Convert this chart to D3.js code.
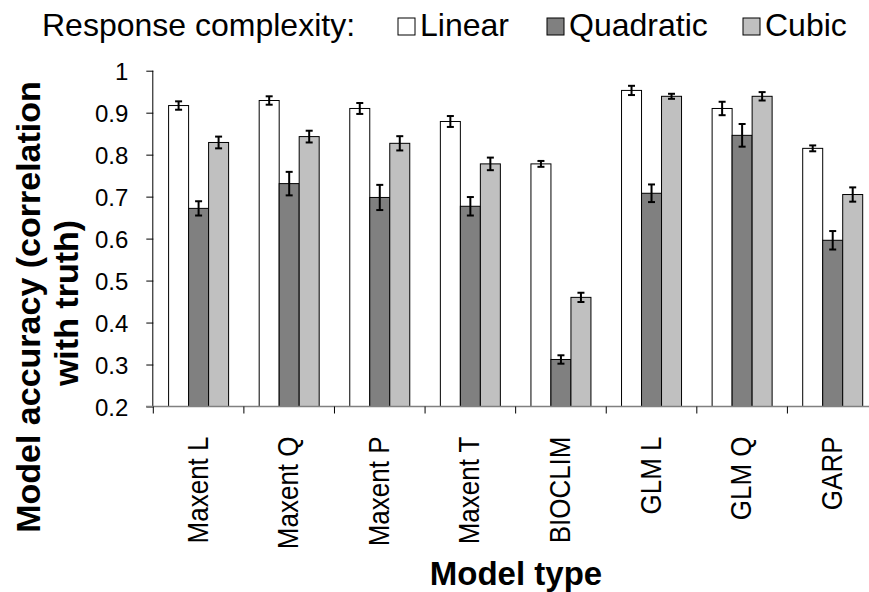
<!DOCTYPE html>
<html>
<head>
<meta charset="utf-8">
<script src="https://cdn.jsdelivr.net/npm/d3@7"></script>
<style>
  body { margin: 0; background: #fff; }
  text { font-family: "Liberation Sans", Arimo, Arial, sans-serif; fill: #000; }
</style>
</head>
<body>
<div id="chart"></div>
<script>
// chart data
const categories = ["Maxent L", "Maxent Q", "Maxent P", "Maxent T", "BIOCLIM", "GLM L", "GLM Q", "GARP"];
const series = ["Linear", "Quadratic", "Cubic"];
const linearVals = [0.917, 0.929, 0.910, 0.879, 0.778, 0.953, 0.910, 0.815];
const quadVals   = [0.672, 0.731, 0.698, 0.677, 0.312, 0.708, 0.846, 0.596];
const cubicVals  = [0.829, 0.843, 0.827, 0.778, 0.460, 0.939, 0.939, 0.705];
const linearErr  = [0.010, 0.010, 0.013, 0.013, 0.007, 0.011, 0.016, 0.007];
const quadErr    = [0.017, 0.028, 0.030, 0.022, 0.010, 0.021, 0.027, 0.022];
const cubicErr   = [0.014, 0.014, 0.017, 0.015, 0.011, 0.006, 0.010, 0.017];
const yTicks = [0.2, 0.3, 0.4, 0.5, 0.6, 0.7, 0.8, 0.9, 1];

const colors = {Linear: "#ffffff", Quadratic: "#808080", Cubic: "#c0c0c0"};
const width = 869, height = 592;

const svg = d3.select("#chart").append("svg")
    .attr("width", width)
    .attr("height", height);

let x = d3.scaleBand().domain(categories).range([153.3, 878]);
let y = d3.scaleLinear().domain([0.2, 1]).range([406.5, 70.7]);
let xs = d3.scaleBand().domain(series).range([-30, 30]);

// build rows for every bar
let rows = [];
categories.forEach(function(c, i) {
    rows.push({cat: c, s: "Linear", v: linearVals[i], e: linearErr[i]});
    rows.push({cat: c, s: "Quadratic", v: quadVals[i], e: quadErr[i]});
    rows.push({cat: c, s: "Cubic", v: cubicVals[i], e: cubicErr[i]});
});

let cx = d => x(d.cat) + x.bandwidth() / 2 + xs(d.s);

// bars
svg.append("g").selectAll("rect").data(rows).enter()
    .append("rect")
    .attr("x", d => cx(d))
    .attr("y", d => y(d.v))
    .attr("width", xs.bandwidth())
    .attr("height", d => y(0.2) - y(d.v))
    .attr("fill", d => colors[d.s])
    .attr("stroke", "#000")
    .attr("stroke-width", 1);

// error bars
let err = svg.append("g").attr("stroke", "#000").attr("stroke-width", 2);
rows.forEach(function(d) {
    let mx = cx(d) + xs.bandwidth() / 2;
    err.append("line").attr("x1", mx).attr("x2", mx)
        .attr("y1", y(d.v + d.e)).attr("y2", y(d.v - d.e));
    [d.v + d.e, d.v - d.e].forEach(function(v) {
        err.append("line").attr("x1", mx - 3.5).attr("x2", mx + 3.5)
            .attr("y1", y(v)).attr("y2", y(v));
    });
});

// y axis
let yAxis = svg.append("g")
    .attr("transform", "translate(153.3,0)")
    .call(d3.axisLeft(y).tickValues(yTicks).tickSize(7).tickPadding(18)
        .tickFormat(d => d === 1 ? "1" : d3.format(".1f")(d)));
yAxis.select(".domain").attr("stroke", "#000").attr("d", `M-0.5,${y(1)}V${y(0.2)}`);
yAxis.selectAll("line").attr("stroke", "#000");
yAxis.selectAll("text").style("font-size", "24px").attr("dy", "0.36em");

// x axis
let xAxis = svg.append("g").attr("transform", `translate(0,${y(0.2)})`);
xAxis.append("line").attr("x1", 146).attr("x2", 878).attr("y1", 0).attr("y2", 0)
    .attr("stroke", "#808080").attr("stroke-width", 1.5);
xAxis.selectAll(".tk").data(categories.concat(["end"])).enter()
    .append("line")
    .attr("x1", (d, i) => 153.3 + i * x.step()).attr("x2", (d, i) => 153.3 + i * x.step())
    .attr("y1", 0).attr("y2", 7)
    .attr("stroke", "#000");
xAxis.selectAll(".lbl").data(categories).enter()
    .append("text")
    .attr("transform", d => `translate(${x(d) + x.bandwidth() / 2 + 9},30) rotate(-90) scale(1,1.12)`)
    .style("text-anchor", "end")
    .style("font-size", "26px")
    .text(d => d);

// axis titles
svg.append("text")
    .attr("x", 516).attr("y", 585)
    .style("text-anchor", "middle")
    .style("font-size", "33px")
    .style("font-weight", "bold")
    .text("Model type");
svg.append("text")
    .attr("transform", "translate(40,307) rotate(-90)")
    .style("text-anchor", "middle")
    .style("font-size", "34px")
    .style("font-weight", "bold")
    .text("Model accuracy (correlation");
svg.append("text")
    .attr("transform", "translate(78,303) rotate(-90)")
    .style("text-anchor", "middle")
    .style("font-size", "34px")
    .style("font-weight", "bold")
    .text("with truth)");

// legend
let legend = svg.append("g");
legend.append("text").attr("x", 42).attr("y", 36)
    .style("font-size", "32px").text("Response complexity:");
const legendX = [398, 547, 743];
series.forEach(function(s, i) {
    legend.append("rect")
        .attr("x", legendX[i]).attr("y", 18)
        .attr("width", 17).attr("height", 17)
        .attr("fill", colors[s]).attr("stroke", "#000");
    legend.append("text")
        .attr("x", legendX[i] + 22).attr("y", 36)
        .style("font-size", "32px")
        .text(s);
});
</script>
</body>
</html>
